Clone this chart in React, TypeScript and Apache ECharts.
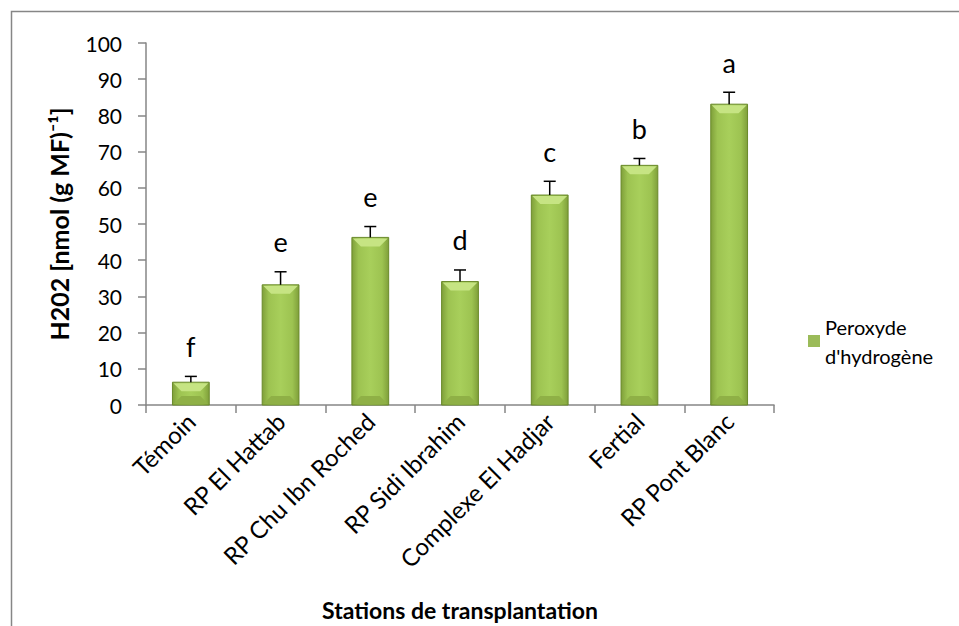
import React, { useEffect, useRef } from "react";
import * as echarts from "echarts";

const categories = [
  "Témoin",
  "RP El Hattab",
  "RP Chu Ibn Roched",
  "RP Sidi Ibrahim",
  "Complexe El Hadjar",
  "Fertial",
  "RP Pont Blanc",
];
const values = [6.3, 33.2, 46.3, 34.1, 58.0, 66.2, 83.1];
const errors = [1.6, 3.6, 3.0, 3.2, 3.8, 1.9, 3.3];
const letters = ["f", "e", "e", "d", "c", "b", "a"];
const yTicks = { min: 0, max: 100, interval: 10 };
const seriesName = "Peroxyde d'hydrogène";
const legendLines = ["Peroxyde", "d'hydrogène"];
const yName = "H202 [nmol (g MF)⁻¹]";
const xName = "Stations de transplantation";

const FONT = "Lato, 'Open Sans', sans-serif";
const AXIS = "#868686";

export default function App() {
  const ref = useRef<HTMLDivElement>(null);
  useEffect(() => {
    if (!ref.current) return;
    const chart = echarts.init(ref.current, undefined, { renderer: "svg" });
    const barFill = new echarts.graphic.LinearGradient(0, 0, 1, 0, [
      { offset: 0, color: "#7f9f3a" },
      { offset: 0.18, color: "#9dc351" },
      { offset: 0.5, color: "#a8cf5b" },
      { offset: 0.82, color: "#9dc351" },
      { offset: 1, color: "#7f9f3a" },
    ]);
    const lineH = 29;
    chart.setOption({
      animation: false,
      backgroundColor: "#fff",
      textStyle: { fontFamily: FONT },
      graphic: [
        {
          type: "rect",
          shape: { x: 11.5, y: 11.5, width: 1000, height: 700 },
          style: { fill: "none", stroke: AXIS, lineWidth: 1.5 },
          z: -1,
        },
      ],
      grid: { left: 146, right: 185, top: 43, bottom: 216, containLabel: false },
      legend: {
        left: 808,
        top: 341 - (lineH * 3) / 2,
        itemWidth: 12,
        itemHeight: 12,
        itemGap: 0,
        padding: 0,
        data: [{ name: seriesName, icon: "rect", itemStyle: { color: "#9bbb59" } }],
        formatter: () => legendLines.join("\n"),
        textStyle: {
          fontSize: 20,
          lineHeight: lineH,
          color: "#000",
          fontFamily: FONT,
          padding: [lineH, 0, 0, 0],
        },
      },
      xAxis: {
        type: "category",
        data: categories,
        name: xName,
        nameLocation: "middle",
        nameGap: 193,
        nameTextStyle: { fontSize: 23, fontWeight: "bold", color: "#000", fontFamily: FONT },
        axisLine: { lineStyle: { color: AXIS, width: 1.5 } },
        axisTick: { show: true, length: 8, alignWithLabel: false, lineStyle: { color: AXIS, width: 1.5 } },
        axisLabel: { rotate: 45, fontSize: 24, color: "#000", margin: 12, fontFamily: FONT, interval: 0 },
        splitLine: { show: false },
      },
      yAxis: {
        type: "value",
        min: yTicks.min,
        max: yTicks.max,
        interval: yTicks.interval,
        name: yName,
        nameLocation: "middle",
        nameGap: 75,
        nameTextStyle: { fontSize: 25, fontWeight: "bold", color: "#000", fontFamily: FONT },
        axisLine: { show: true, lineStyle: { color: AXIS, width: 1.5 } },
        axisTick: { show: true, length: 8, lineStyle: { color: AXIS, width: 1.5 } },
        axisLabel: { fontSize: 21, color: "#000", margin: 24, fontFamily: FONT },
        splitLine: { show: false },
      },
      series: [
        {
          name: seriesName,
          type: "custom",
          itemStyle: { color: "#9bbb59" },
          data: values.map((v, i) => [i, v]),
          encode: { x: 0, y: 1 },
          renderItem: (params: any, api: any) => {
            const x = api.value(0);
            const v = api.value(1);
            const top = api.coord([x, v]);
            const base = api.coord([x, 0]);
            const bw = api.size([1, 0])[0] * 0.41;
            const x0 = top[0] - bw / 2;
            const x1 = top[0] + bw / 2;
            const y0 = top[1];
            const y1 = base[1];
            const b = Math.min(9, (y1 - y0) / 2);
            return {
              type: "group",
              children: [
                {
                  type: "rect",
                  shape: { x: x0, y: y0, width: bw, height: y1 - y0 },
                  style: { fill: barFill, stroke: "#6a8a2a", lineWidth: 1 },
                },
                {
                  type: "polygon",
                  shape: { points: [[x0 + 1, y0 + 1], [x1 - 1, y0 + 1], [x1 - b, y0 + b], [x0 + b, y0 + b]] },
                  style: { fill: "#c6e483" },
                },
                {
                  type: "polygon",
                  shape: { points: [[x0 + 1, y1 - 1], [x1 - 1, y1 - 1], [x1 - b, y1 - b], [x0 + b, y1 - b]] },
                  style: { fill: "#8fb046" },
                },
              ],
            };
          },
          z: 2,
        },
        {
          name: "err",
          type: "custom",
          data: values.map((v, i) => [i, v, v + errors[i]]),
          encode: { x: 0, y: 2 },
          renderItem: (params: any, api: any) => {
            const i = params.dataIndex;
            const x = api.value(0);
            const p0 = api.coord([x, api.value(1)]);
            const p1 = api.coord([x, api.value(2)]);
            const hw = 6;
            return {
              type: "group",
              children: [
                { type: "line", shape: { x1: p0[0], y1: p0[1], x2: p1[0], y2: p1[1] }, style: { stroke: "#000", lineWidth: 1.5 } },
                { type: "line", shape: { x1: p1[0] - hw, y1: p1[1], x2: p1[0] + hw, y2: p1[1] }, style: { stroke: "#000", lineWidth: 1.5 } },
                {
                  type: "text",
                  style: {
                    text: letters[i],
                    x: p1[0],
                    y: p1[1] - 30,
                    align: "center",
                    verticalAlign: "middle",
                    fontSize: 27,
                    fontFamily: FONT,
                    fill: "#000",
                  },
                },
              ],
            };
          },
          z: 3,
        },
      ],
    });
    return () => chart.dispose();
  }, []);
  return (
    <div
      ref={ref}
      style={{ position: "fixed", left: 0, top: 0, width: 959, height: 626, background: "#fff" }}
    />
  );
}
